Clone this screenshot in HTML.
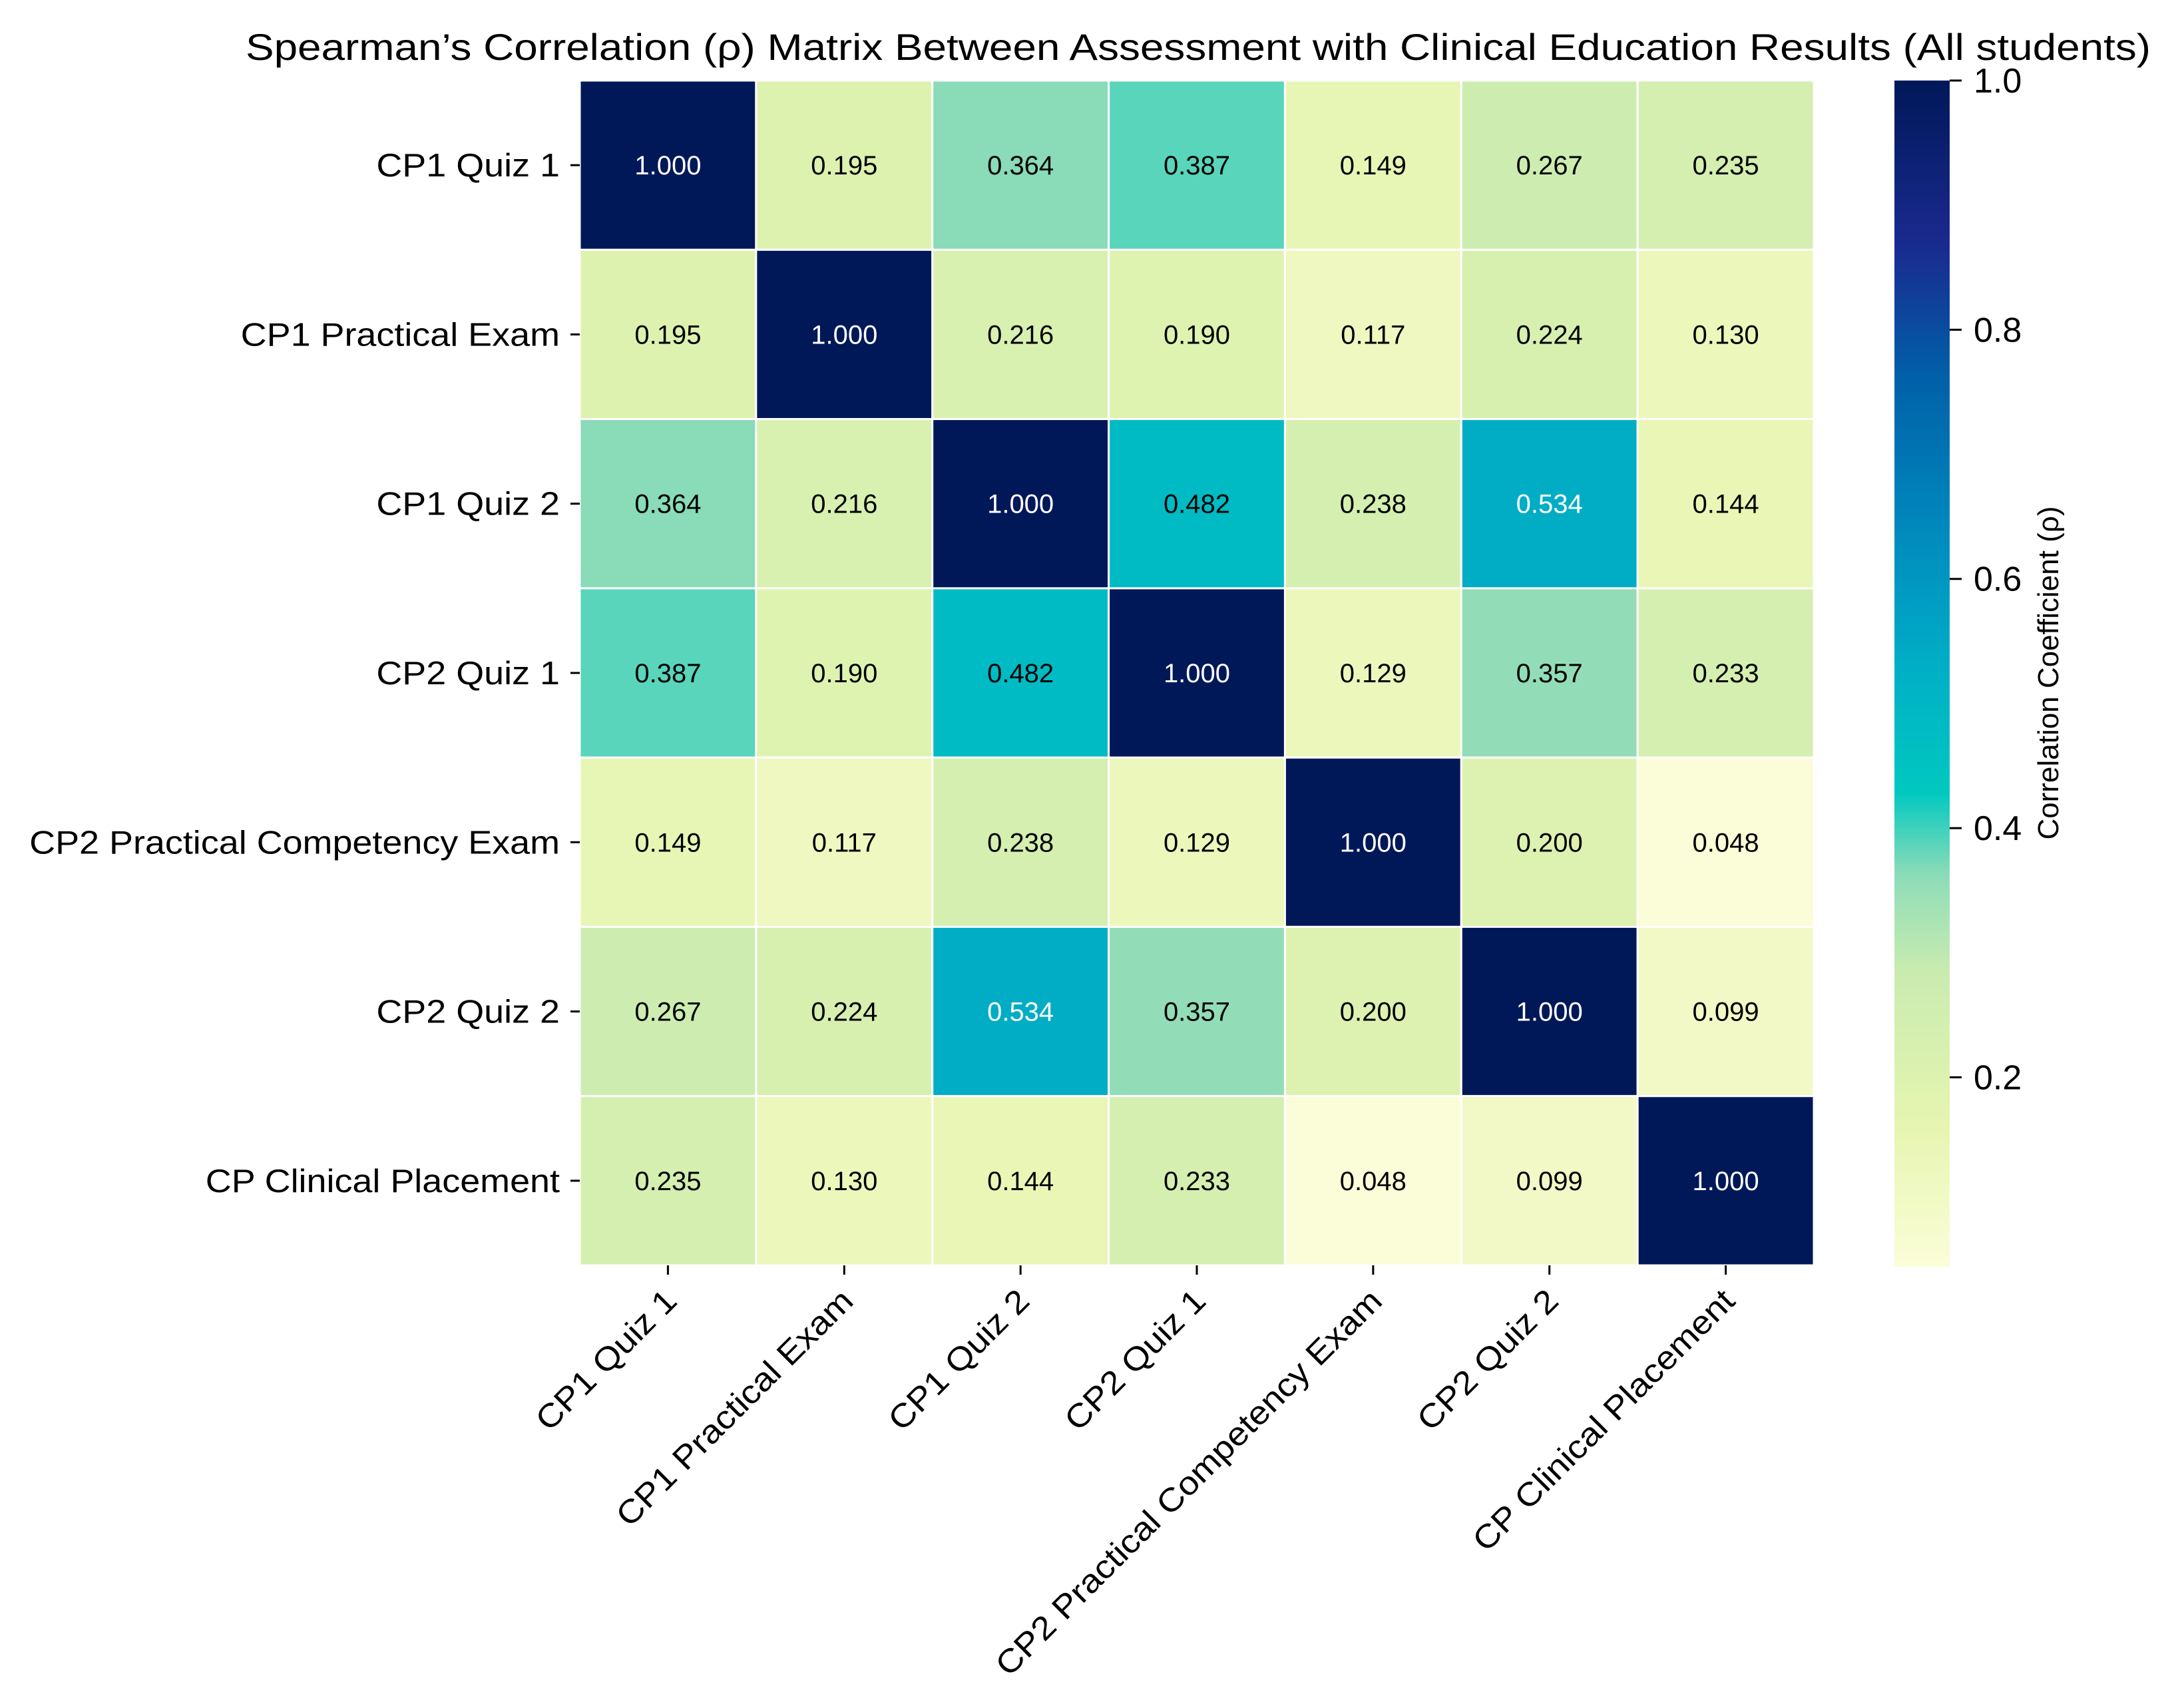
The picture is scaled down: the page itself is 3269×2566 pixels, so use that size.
<!DOCTYPE html>
<html><head><meta charset="utf-8"><style>
html,body{margin:0;padding:0;background:#fff}
svg{display:block;font-family:"Liberation Sans",sans-serif}
</style></head><body>
<svg id="chart" width="3269" height="2566" viewBox="0 0 3269 2566" xmlns="http://www.w3.org/2000/svg">
<text x="1800" y="90" font-size="56" text-anchor="middle" textLength="2862" lengthAdjust="spacingAndGlyphs" fill="#000">Spearman’s Correlation (ρ) Matrix Between Assessment with Clinical Education Results (All students)</text>
<g id="cells"></g>
<g id="ylabels"></g>
<g id="xlabels"></g>
<defs><linearGradient id="cbgrad" x1="0" y1="1" x2="0" y2="0"></linearGradient></defs>
<rect x="2846" y="121" width="83" height="1782" fill="url(#cbgrad)"/>
<g id="cbticks"></g>
<text transform="translate(3092,1011) rotate(-90)" font-size="44" text-anchor="middle" fill="#000">Correlation Coefficient (ρ)</text>
</svg>
<script>
const categories = ["CP1 Quiz 1","CP1 Practical Exam","CP1 Quiz 2","CP2 Quiz 1","CP2 Practical Competency Exam","CP2 Quiz 2","CP Clinical Placement"];
const row0 = [1.000,0.195,0.364,0.387,0.149,0.267,0.235];
const row1 = [0.195,1.000,0.216,0.190,0.117,0.224,0.130];
const row2 = [0.364,0.216,1.000,0.482,0.238,0.534,0.144];
const row3 = [0.387,0.190,0.482,1.000,0.129,0.357,0.233];
const row4 = [0.149,0.117,0.238,0.129,1.000,0.200,0.048];
const row5 = [0.267,0.224,0.534,0.357,0.200,1.000,0.099];
const row6 = [0.235,0.130,0.144,0.233,0.048,0.099,1.000];
const matrix = [row0,row1,row2,row3,row4,row5,row6];
const cbTicks = [0.2,0.4,0.6,0.8,1.0];
const cbTickLabels = ["0.2","0.4","0.6","0.8","1.0"];
const vmin = 0.048, vmax = 1.0;

const NS="http://www.w3.org/2000/svg";
const X0=871,X1=2725,Y0=121,Y1=1901;
const n=categories.length, cw=(X1-X0)/n, ch=(Y1-Y0)/n;
const xPos=i=>X0+i*cw, yPos=i=>Y0+i*ch;
const stopT=[0,0.12,0.25,0.33,0.40,0.50,0.60,0.75,0.86,1];
const stopC=["#fbfdd8","#e6f5b0","#c8ebb0","#8edcb8","#00c8c0","#00b0c6","#0090c0","#0060a8","#1a2a90","#001858"];
function hex(h){return [1,3,5].map(k=>parseInt(h.substr(k,2),16));}
function cmap(v){let t=(v-vmin)/(vmax-vmin);t=Math.max(0,Math.min(1,t));
 let i=0;while(i<stopT.length-2&&t>stopT[i+1])i++;
 const f=(t-stopT[i])/(stopT[i+1]-stopT[i]);
 const a=hex(stopC[i]),b=hex(stopC[i+1]);
 return "rgb("+a.map((c,k)=>Math.round(c+(b[k]-c)*f)).join(",")+")";}
function lum(v){return (v-vmin)/(vmax-vmin);}
const cells=document.getElementById('cells');
matrix.forEach((row,r)=>row.forEach((v,c)=>{
 const rc=document.createElementNS(NS,'rect');
 rc.setAttribute('x',xPos(c));rc.setAttribute('y',yPos(r));
 rc.setAttribute('width',cw);rc.setAttribute('height',ch);
 rc.setAttribute('fill',cmap(v));rc.setAttribute('stroke','#fff');rc.setAttribute('stroke-width','3');
 
 
 cells.appendChild(rc);
 const t=document.createElementNS(NS,'text');
 t.setAttribute('x',xPos(c)+cw/2);t.setAttribute('y',yPos(r)+ch/2+14);
 t.setAttribute('font-size','40');t.setAttribute('text-anchor','middle');
 t.setAttribute('fill',lum(v)>0.5?'#fff':'#000');
 t.textContent=v.toFixed(3);
 
 
 cells.appendChild(t);
}));
const yl=document.getElementById('ylabels'),xl=document.getElementById('xlabels');
const stretch=[];
categories.forEach((lab,i)=>{
 const cy=yPos(i)+ch/2;
 const tk=document.createElementNS(NS,'line');
 tk.setAttribute('x1',X0-14);tk.setAttribute('x2',X0);tk.setAttribute('y1',cy);tk.setAttribute('y2',cy);tk.setAttribute('stroke','#000');tk.setAttribute('stroke-width','3');
 
 
 yl.appendChild(tk);
 const t=document.createElementNS(NS,'text');
 t.setAttribute('x',X0-30);t.setAttribute('y',cy+17);t.setAttribute('font-size','49');t.setAttribute('text-anchor','end');
 t.textContent=lab;
 
 
 yl.appendChild(t);stretch.push(t);
 const cx=xPos(i)+cw/2;
 const tx=document.createElementNS(NS,'line');
 tx.setAttribute('x1',cx);tx.setAttribute('x2',cx);tx.setAttribute('y1',Y1);tx.setAttribute('y2',Y1+14);tx.setAttribute('stroke','#000');tx.setAttribute('stroke-width','3');
 
 
 xl.appendChild(tx);
 const u=document.createElementNS(NS,'text');
 u.setAttribute('transform','translate('+(cx-8)+','+(Y1+32)+') rotate(-45)');
 u.setAttribute('font-size','49');u.setAttribute('text-anchor','end');u.setAttribute('dominant-baseline','hanging');
 u.textContent=lab;
 
 
 xl.appendChild(u);stretch.push(u);
});
stretch.forEach(t=>{const L=t.getComputedTextLength();t.setAttribute('textLength',(L*1.1).toFixed(1));t.setAttribute('lengthAdjust','spacingAndGlyphs');});
const g=document.getElementById('cbgrad');
for(let k=0;k<=60;k++){const v=vmin+(vmax-vmin)*k/60;const s=document.createElementNS(NS,'stop');s.setAttribute('offset',(k/60));s.setAttribute('stop-color',cmap(v));g.appendChild(s);}
const CB0=1903,CB1=121,cby=v=>CB0-(v-vmin)/(vmax-vmin)*(CB0-CB1);
const cbt=document.getElementById('cbticks');
cbTicks.forEach((v,i)=>{const y=cby(v);
 const l=document.createElementNS(NS,'line');l.setAttribute('x1',2929);l.setAttribute('x2',2947);l.setAttribute('y1',y);l.setAttribute('y2',y);l.setAttribute('stroke','#000');l.setAttribute('stroke-width','3');
 
 
 cbt.appendChild(l);
 const t=document.createElementNS(NS,'text');t.setAttribute('x',2965);t.setAttribute('y',y+18);t.setAttribute('font-size','52');t.textContent=cbTickLabels[i];
 
 
 cbt.appendChild(t);});
</script>
</body></html>
